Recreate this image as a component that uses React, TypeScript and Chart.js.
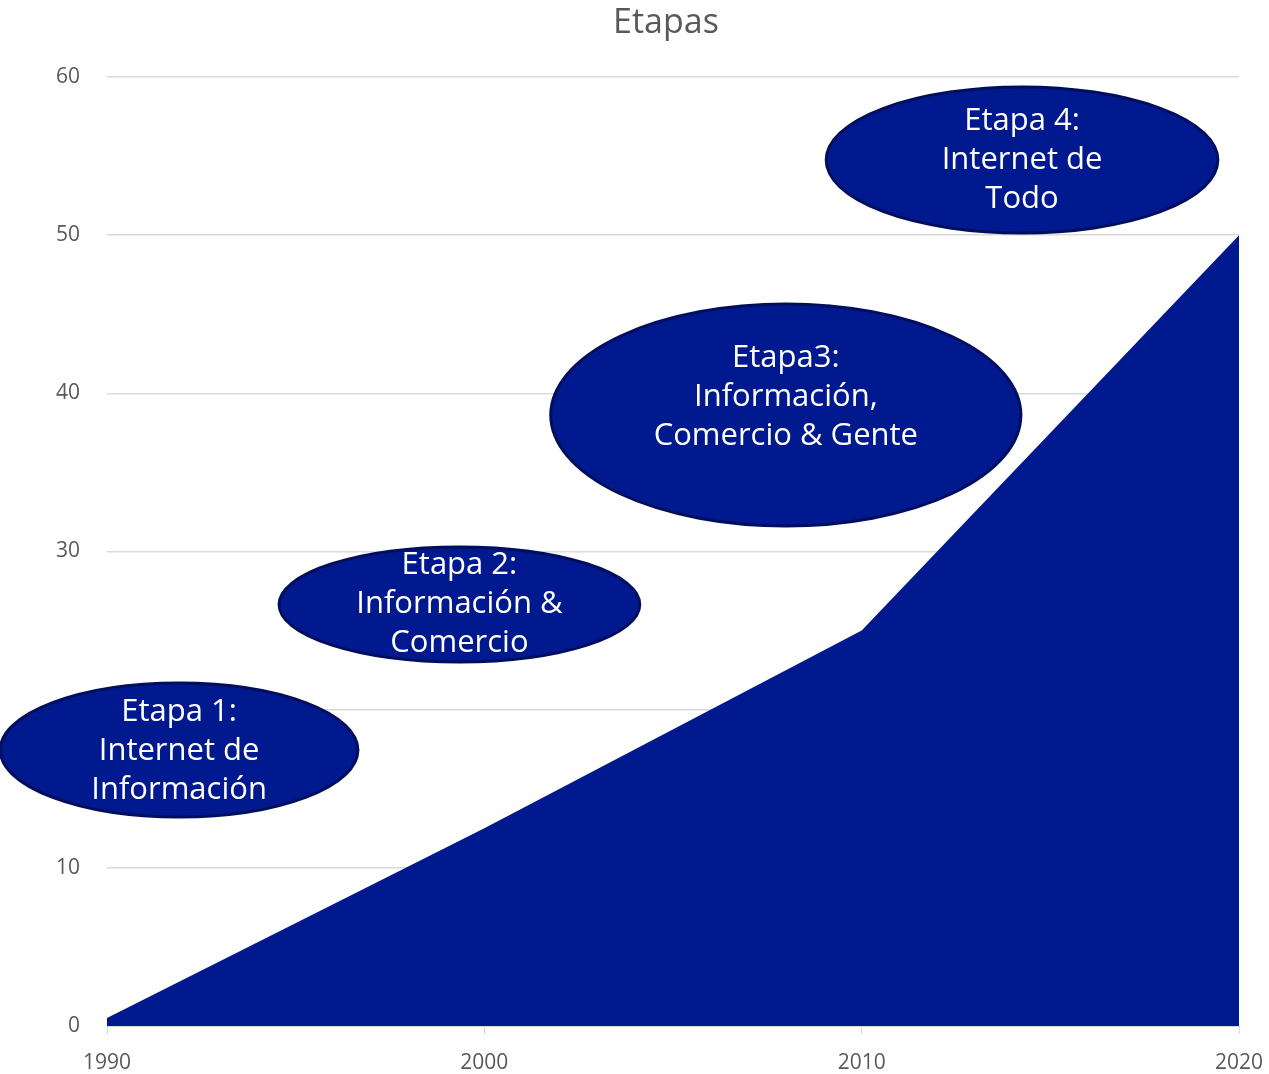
import React, { useEffect, useRef } from "react";
import { Chart, registerables } from "chart.js";

Chart.register(...registerables);

// ---- data ----
const years = [1990, 2000, 2010, 2020];
const values = [0.5, 12.5, 25, 50];
const xTicks = [1990, 2000, 2010, 2020];
const yTicks = [0, 10, 20, 30, 40, 50, 60];
const chartTitle = "Etapas";

// stage callouts (text)
const stageTexts = [
  ["Etapa 1:", "Internet de", "Información"],
  ["Etapa 2:", "Información &", "Comercio"],
  ["Etapa3:", "Información,", "Comercio & Gente"],
  ["Etapa 4:", "Internet de", "Todo"],
];
// callout anchors in data units
const stageX = [1991.91, 1999.34, 2007.99, 2014.25];
const stageY = [17.45, 26.65, 38.63, 54.75];

// callout geometry (styles/sizes kept apart from data)
const stageRx = [4.74, 4.78, 6.23, 5.19]; // in years
const stageRy = [4.24, 3.64, 7.02, 4.62]; // in value units
const stageTextDy = [1, 0, -18, 0]; // px

const FILL = "#00198F";
const BORDER = "#000E5E";
const FONT = "'Open Sans', 'Noto Sans', sans-serif";

const titlePlugin = {
  id: "customTitle",
  afterDraw(chart: any) {
    const { ctx } = chart;
    ctx.save();
    ctx.fillStyle = "#595959";
    ctx.font = `34px ${FONT}`;
    ctx.textAlign = "center";
    ctx.textBaseline = "middle";
    ctx.fillText(chartTitle, 666, 23);
    ctx.restore();
  },
};

const ellipsePlugin = {
  id: "stageEllipses",
  afterDraw(chart: any) {
    const { ctx } = chart;
    const xs = chart.scales.x;
    const ys = chart.scales.y;
    ctx.save();
    for (let i = 0; i < stageTexts.length; i++) {
      const cx = xs.getPixelForValue(stageX[i]);
      const cy = ys.getPixelForValue(stageY[i]);
      const rx = Math.abs(xs.getPixelForValue(stageX[i] + stageRx[i]) - cx);
      const ry = Math.abs(ys.getPixelForValue(stageY[i] + stageRy[i]) - cy);
      ctx.beginPath();
      ctx.ellipse(cx, cy, rx, ry, 0, 0, Math.PI * 2);
      ctx.fillStyle = FILL;
      ctx.fill();
      ctx.lineWidth = 3;
      ctx.strokeStyle = BORDER;
      ctx.stroke();
      ctx.fillStyle = "#FFFFFF";
      ctx.font = `31px ${FONT}`;
      ctx.textAlign = "center";
      ctx.textBaseline = "middle";
      const lines = stageTexts[i];
      const lh = 39;
      const start = cy + stageTextDy[i] - ((lines.length - 1) * lh) / 2;
      lines.forEach((t, k) => ctx.fillText(t, cx, start + k * lh));
    }
    ctx.restore();
  },
};

export default function App() {
  const ref = useRef<HTMLCanvasElement | null>(null);
  useEffect(() => {
    document.body.style.margin = "0";
    const canvas = ref.current;
    if (!canvas) return;
    const chart = new Chart(canvas, {
      type: "line",
      data: {
        datasets: [
          {
            label: "Etapas",
            data: years.map((x, i) => ({ x, y: values[i] })),
            fill: "origin",
            backgroundColor: FILL,
            borderWidth: 0,
            pointRadius: 0,
            tension: 0,
          },
        ],
      },
      options: {
        animation: false,
        responsive: true,
        maintainAspectRatio: false,
        layout: { padding: { left: 0, right: 30, top: 77, bottom: 0 } },
        plugins: {
          legend: { display: false },
          tooltip: { enabled: false },
          title: { display: false },
        },
        scales: {
          x: {
            type: "linear",
            min: 1990,
            max: 2020,
            afterBuildTicks: (s: any) => {
              s.ticks = xTicks.map((v) => ({ value: v }));
            },
            afterFit: (s: any) => {
              s.height = 48;
              s.paddingRight = 0;
              s.paddingLeft = 0;
            },
            grid: {
              drawOnChartArea: false,
              drawTicks: true,
              tickLength: 8,
              color: "#D9D9D9",
            },
            border: { color: "#D9D9D9", width: 1 },
            ticks: {
              color: "#595959",
              font: { family: FONT, size: 21 },
              padding: 16,
              maxRotation: 0,
              autoSkip: false,
              callback: (v: any) => String(v),
            },
          },
          y: {
            min: 0,
            max: 60,
            afterBuildTicks: (s: any) => {
              s.ticks = yTicks.map((v) => ({ value: v }));
            },
            afterFit: (s: any) => {
              s.width = 107;
            },
            grid: { color: "#D9D9D9", drawTicks: false, lineWidth: 1.5 },
            border: { display: false },
            ticks: {
              color: "#595959",
              font: { family: FONT, size: 21 },
              padding: 27,
              callback: (v: any) => String(v),
            },
          },
        },
      },
      plugins: [ellipsePlugin, titlePlugin],
    });
    return () => chart.destroy();
  }, []);
  return (
    <div style={{ position: "relative", width: "1269px", height: "1074px" }}>
      <canvas ref={ref} />
    </div>
  );
}
